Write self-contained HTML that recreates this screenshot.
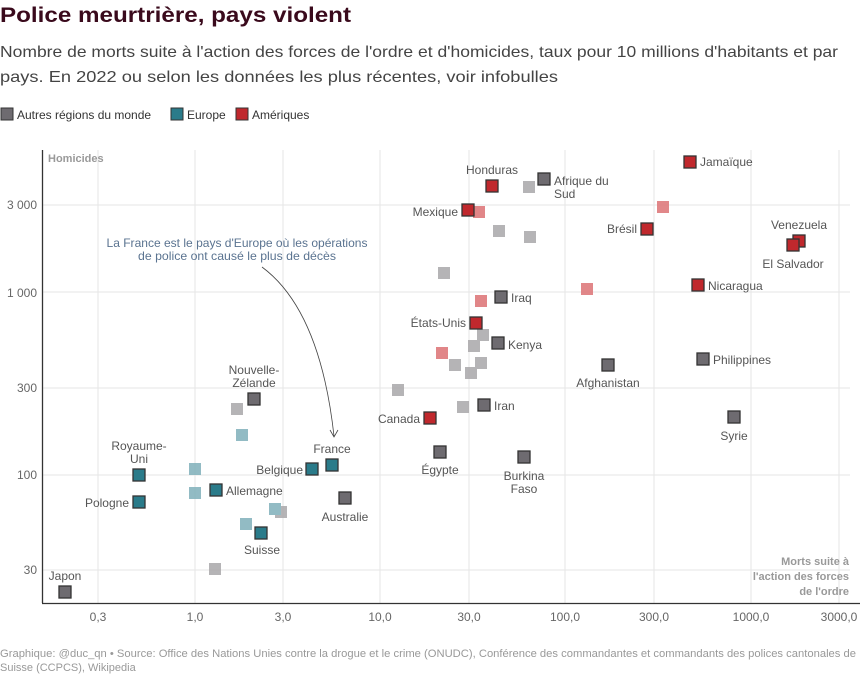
<!DOCTYPE html>
<html><head><meta charset="utf-8"><style>
body{margin:0;background:#fff;width:860px;height:682px;overflow:hidden;font-family:"Liberation Sans",sans-serif}
</style></head><body>
<svg width="860" height="682" xmlns="http://www.w3.org/2000/svg" font-family="Liberation Sans, sans-serif">
<text x="0" y="22" font-size="21" font-weight="bold" fill="#3a0a1c" textLength="351" lengthAdjust="spacingAndGlyphs">Police meurtrière, pays violent</text>
<text x="0" y="57" font-size="16" fill="#444" textLength="838" lengthAdjust="spacingAndGlyphs">Nombre de morts suite à l'action des forces de l'ordre et d'homicides, taux pour 10 millions d'habitants et par</text>
<text x="0" y="82" font-size="16" fill="#444" textLength="558" lengthAdjust="spacingAndGlyphs">pays. En 2022 ou selon les données les plus récentes, voir infobulles</text>
<g font-size="12" fill="#333">
<rect x="1" y="108" width="12" height="12" fill="#6e6b70" stroke="#333"/><text x="17" y="119">Autres régions du monde</text>
<rect x="171" y="108" width="12" height="12" fill="#2a7b8a" stroke="#333"/><text x="187" y="119">Europe</text>
<rect x="236" y="108" width="12" height="12" fill="#c0282d" stroke="#333"/><text x="252" y="119">Amériques</text>
</g>
<g stroke="#e6e6e6" stroke-width="1">
<line x1="98" y1="150" x2="98" y2="603"/><line x1="195" y1="150" x2="195" y2="603"/><line x1="283" y1="150" x2="283" y2="603"/><line x1="380" y1="150" x2="380" y2="603"/><line x1="469" y1="150" x2="469" y2="603"/><line x1="565" y1="150" x2="565" y2="603"/><line x1="654" y1="150" x2="654" y2="603"/><line x1="751" y1="150" x2="751" y2="603"/><line x1="839" y1="150" x2="839" y2="603"/>
<line x1="42" y1="205" x2="850" y2="205"/><line x1="42" y1="292" x2="850" y2="292"/><line x1="42" y1="388" x2="850" y2="388"/><line x1="42" y1="475" x2="850" y2="475"/><line x1="42" y1="570" x2="850" y2="570"/>
</g>
<line x1="42.5" y1="150" x2="42.5" y2="603" stroke="#333" stroke-width="1.3"/>
<line x1="42" y1="603.5" x2="860" y2="603.5" stroke="#333" stroke-width="1.3"/>
<g font-size="12" fill="#666" text-anchor="middle">
<text x="98" y="621">0,3</text><text x="195" y="621">1,0</text><text x="283" y="621">3,0</text><text x="380" y="621">10,0</text><text x="469" y="621">30,0</text><text x="565" y="621">100,0</text><text x="654" y="621">300,0</text><text x="751" y="621">1000,0</text><text x="839" y="621">3000,0</text>
</g>
<g font-size="12" fill="#666" text-anchor="end">
<text x="37" y="209">3 000</text><text x="37" y="297">1 000</text><text x="37" y="392">300</text><text x="37" y="479">100</text><text x="37" y="574">30</text>
</g>
<text x="48" y="162" font-size="11" font-weight="bold" fill="#999">Homicides</text>
<g font-size="11" font-weight="bold" fill="#999" text-anchor="end"><text x="849" y="565">Morts suite à</text><text x="849" y="580">l'action des forces</text><text x="849" y="595">de l'ordre</text></g>
<g font-size="12" fill="#5a7390" text-anchor="middle"><text x="237" y="247" textLength="261" lengthAdjust="spacingAndGlyphs">La France est le pays d'Europe où les opérations</text><text x="237" y="260" textLength="198" lengthAdjust="spacingAndGlyphs">de police ont causé le plus de décès</text></g>
<path d="M262 267 Q320 310 334 436" fill="none" stroke="#444" stroke-width="0.8"/>
<path d="M330 430 L334 437 L338 430" fill="none" stroke="#444" stroke-width="0.8"/>
<g opacity="0.85">
<g fill="#a9a8aa">
<rect x="523" y="181" width="12" height="12"/><rect x="493" y="225" width="12" height="12"/><rect x="524" y="231" width="12" height="12"/><rect x="438" y="267" width="12" height="12"/><rect x="468" y="340" width="12" height="12"/><rect x="477" y="329" width="12" height="12"/><rect x="475" y="357" width="12" height="12"/><rect x="449" y="359" width="12" height="12"/><rect x="465" y="367" width="12" height="12"/><rect x="392" y="384" width="12" height="12"/><rect x="457" y="401" width="12" height="12"/><rect x="231" y="403" width="12" height="12"/><rect x="209" y="563" width="12" height="12"/><rect x="275" y="506" width="12" height="12"/>
</g>
<g fill="#7fb0ba">
<rect x="236" y="429" width="12" height="12"/><rect x="189" y="463" width="12" height="12"/><rect x="189" y="487" width="12" height="12"/><rect x="240" y="518" width="12" height="12"/><rect x="269" y="503" width="12" height="12"/>
</g>
<g fill="#dc7274">
<rect x="473" y="206" width="12" height="12"/><rect x="657" y="201" width="12" height="12"/><rect x="581" y="283" width="12" height="12"/><rect x="475" y="295" width="12" height="12"/><rect x="436" y="347" width="12" height="12"/>
</g>
</g>
<g fill="#6e6b70" stroke="#333" stroke-width="1.3">
<rect x="538" y="173" width="12" height="12"/><rect x="495" y="291" width="12" height="12"/><rect x="492" y="337" width="12" height="12"/><rect x="602" y="359" width="12" height="12"/><rect x="697" y="353" width="12" height="12"/><rect x="728" y="411" width="12" height="12"/><rect x="478" y="399" width="12" height="12"/><rect x="434" y="446" width="12" height="12"/><rect x="518" y="451" width="12" height="12"/><rect x="248" y="393" width="12" height="12"/><rect x="339" y="492" width="12" height="12"/><rect x="59" y="586" width="12" height="12"/>
</g>
<g fill="#2a7b8a" stroke="#333" stroke-width="1.3">
<rect x="133" y="469" width="12" height="12"/><rect x="133" y="496" width="12" height="12"/><rect x="210" y="484" width="12" height="12"/><rect x="306" y="463" width="12" height="12"/><rect x="326" y="459" width="12" height="12"/><rect x="255" y="527" width="12" height="12"/>
</g>
<g fill="#c0282d" stroke="#333" stroke-width="1.3">
<rect x="684" y="156" width="12" height="12"/><rect x="486" y="180" width="12" height="12"/><rect x="462" y="204" width="12" height="12"/><rect x="641" y="223" width="12" height="12"/><rect x="793" y="235" width="12" height="12"/><rect x="787" y="239" width="12" height="12"/><rect x="692" y="279" width="12" height="12"/><rect x="470" y="317" width="12" height="12"/><rect x="424" y="412" width="12" height="12"/>
</g>
<g font-size="12" fill="#555">
<text x="700" y="166">Jamaïque</text>
<text x="492" y="174" text-anchor="middle">Honduras</text>
<text x="554" y="185">Afrique du</text><text x="554" y="198">Sud</text>
<text x="458" y="216" text-anchor="end">Mexique</text>
<text x="637" y="233" text-anchor="end">Brésil</text>
<text x="799" y="229" text-anchor="middle">Venezuela</text>
<text x="793" y="268" text-anchor="middle">El Salvador</text>
<text x="708" y="290">Nicaragua</text>
<text x="511" y="302">Iraq</text>
<text x="466" y="327" text-anchor="end">États-Unis</text>
<text x="508" y="349">Kenya</text>
<text x="608" y="387" text-anchor="middle">Afghanistan</text>
<text x="713" y="364">Philippines</text>
<text x="734" y="440" text-anchor="middle">Syrie</text>
<text x="494" y="410">Iran</text>
<text x="420" y="423" text-anchor="end">Canada</text>
<text x="440" y="474" text-anchor="middle">Égypte</text>
<text x="524" y="480" text-anchor="middle">Burkina</text><text x="524" y="493" text-anchor="middle">Faso</text>
<text x="254" y="374" text-anchor="middle">Nouvelle-</text><text x="254" y="387" text-anchor="middle">Zélande</text>
<text x="345" y="521" text-anchor="middle">Australie</text>
<text x="332" y="453" text-anchor="middle">France</text>
<text x="303" y="474" text-anchor="end">Belgique</text>
<text x="226" y="495">Allemagne</text>
<text x="262" y="554" text-anchor="middle">Suisse</text>
<text x="139" y="450" text-anchor="middle">Royaume-</text><text x="139" y="463" text-anchor="middle">Uni</text>
<text x="129" y="507" text-anchor="end">Pologne</text>
<text x="65" y="580" text-anchor="middle">Japon</text>
</g>
<g font-size="11" fill="#999"><text x="0" y="657" textLength="856" lengthAdjust="spacingAndGlyphs">Graphique: @duc_qn • Source: Office des Nations Unies contre la drogue et le crime (ONUDC), Conférence des commandantes et commandants des polices cantonales de</text><text x="0" y="671">Suisse (CCPCS), Wikipedia</text></g>
</svg>
</body></html>
